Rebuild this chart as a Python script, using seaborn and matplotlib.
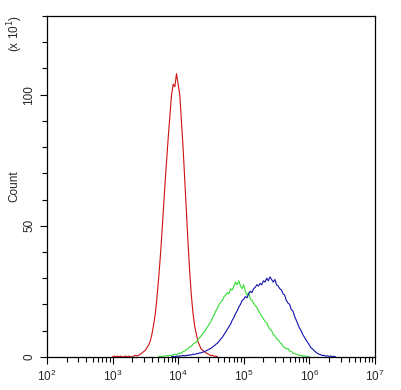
import numpy as np
import pandas as pd
import matplotlib
matplotlib.use("Agg")
import matplotlib.pyplot as plt
import seaborn as sns
from matplotlib.ticker import LogLocator, FixedLocator, NullFormatter

# log10(intensity) grid start/step for each series, counts in units of x10
red_start = 3.0
red_vals = [0, 0.3, 0, 0.3, 0, 0.3, 0, 0, 0.3, 0, 0.3, 0, 0, 0.3, 0.6, 0.3,
            0.6, 1.0, 1.5, 2.0, 2.5, 3.5, 4.5, 6, 8.5, 12, 16, 22, 29, 37, 46,
            56, 66, 75, 84, 92, 100, 104, 103, 108, 104, 100, 90, 80, 68, 56,
            44, 33, 24, 17, 12, 9, 6, 4.5, 3, 2.5, 2, 1.5, 1.2, 0.8, 0.5, 0.6,
            0.2, 0.3, 0]

green_start = 3.7
green_vals = [0, 0.2, 0, 0.3, 0.3, 0.5, 0.3, 0.6, 0.5, 0.8, 1.0, 0.8, 1.2, 1.5,
              1.4, 2.0, 2.2, 2.8, 3.0, 3.8, 4.0, 4.8, 5.2, 5.5, 6.5, 7.2, 8.0,
              8.8, 9.5, 10.5, 11.5, 12.5, 13.5, 15, 16, 17.5, 18.5, 20, 21,
              21.5, 23, 23.5, 24.5, 24, 26, 25.5, 27, 28.5, 27.5, 29, 27, 26,
              27.5, 25, 23.5, 24.5, 22, 21.5, 20.5, 19.5, 19, 17.5, 16.5, 15.5,
              14.5, 13.5, 13, 11.5, 10.5, 10, 8.5, 8, 7, 6.5, 5.5, 5, 4, 3.5, 3,
              3.2, 2.2, 2, 1.5, 1.2, 1, 0.8, 0.5, 0.6, 0.3, 0.4, 0.1, 0.2, 0]

blue_start = 3.9
blue_vals = [0, 0.2, 0, 0.3, 0.2, 0.4, 0.3, 0.5, 0.4, 0.6, 0.5, 0.8, 0.7, 1.0,
             0.9, 1.2, 1.2, 1.5, 1.5, 1.8, 2.0, 2.3, 2.6, 3.0, 3.2, 3.8, 4.2,
             4.8, 5.2, 6.0, 6.8, 7.5, 8.5, 9.5, 10.5, 11.5, 12.5, 14, 15, 16.5,
             17.5, 19, 20, 21.5, 22, 23, 22.5, 24, 25, 24.5, 26, 26.5, 27.5, 27,
             28, 27.5, 29, 28.5, 30, 29, 30.5, 29.5, 28.5, 29.5, 27.5, 27, 26,
             25.5, 24, 23.5, 21.5, 20.5, 20, 18, 17.5, 15.5, 14, 12.5, 11, 10,
             8.5, 7.5, 6.5, 5.5, 4.5, 3.5, 3, 2.3, 1.8, 1.3, 1.0, 0.8, 0.5, 0.6,
             0.3, 0.4, 0.2, 0.3, 0.1, 0.2, 0]

step = 0.025
colors = {"isotype": "#d01010", "sample_a": "#33dd33", "sample_b": "#1010b0"}

frames = []
for name, start, vals in [("isotype", red_start, red_vals),
                          ("sample_a", green_start, green_vals),
                          ("sample_b", blue_start, blue_vals)]:
    lg = start + step * np.arange(len(vals))
    frames.append(pd.DataFrame({"x": 10 ** lg, "y": vals, "s": name}))
df = pd.concat(frames, ignore_index=True)

sns.set_style("ticks")
plt.rcParams["font.family"] = ["Liberation Sans", "DejaVu Sans"]

fig = plt.figure(figsize=(4.01, 3.90), dpi=100)
ax = fig.add_axes([0.117, 0.085, 0.818, 0.874])
sns.lineplot(data=df, x="x", y="y", hue="s", palette=colors, ax=ax,
             legend=False, linewidth=0.8, estimator=None, sort=False)
ax.set_xscale("log")
ax.set_xlim(1e2, 1e7)
ax.set_ylim(0, 130)
ax.xaxis.set_major_locator(LogLocator(base=10, numticks=10))
ax.xaxis.set_minor_locator(LogLocator(base=10, subs=np.arange(2, 10), numticks=20))
ax.xaxis.set_minor_formatter(NullFormatter())
ax.yaxis.set_major_locator(FixedLocator([0, 50, 100]))
ax.yaxis.set_minor_locator(FixedLocator(list(range(10, 131, 10))))
ax.tick_params(axis="both", which="major", length=5, width=0.8, labelsize=8.5, color="black")
ax.tick_params(axis="both", which="minor", length=3.5, width=0.8, color="black")
for lab in ax.get_yticklabels():
    lab.set_rotation(90)
    lab.set_va("center")
for sp in ax.spines.values():
    sp.set_linewidth(0.9)
    sp.set_color("black")
ax.set_xlabel("")
ax.set_ylabel("Count", fontsize=8.5)
ax.yaxis.set_label_coords(-0.082, 0.5)
fig.text(0.038, 0.915, r"(x 10$^1$)", rotation=90, fontsize=8.5, ha="center", va="center")
fig.savefig("out.png", dpi=100)
